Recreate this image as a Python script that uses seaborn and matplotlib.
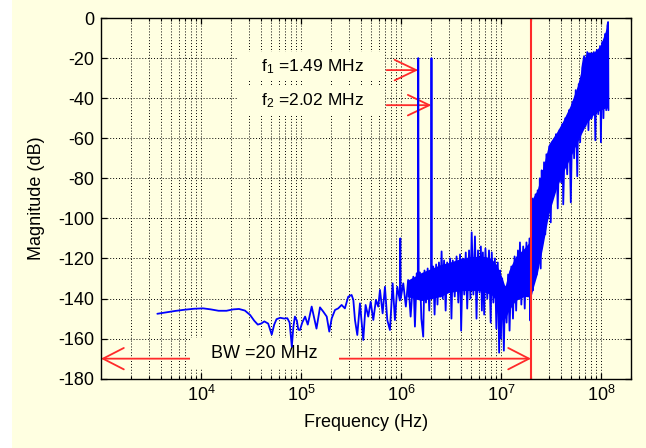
import numpy as np
import matplotlib
matplotlib.use("Agg")
import matplotlib.pyplot as plt
import seaborn as sns
from matplotlib.patches import Rectangle
from matplotlib.ticker import LogLocator, NullFormatter, FixedLocator

# ---------------- data ----------------
freq_hz = [
    3.66e3, 4.5e3, 5.5e3, 6.8e3, 8.5e3, 1.05e4, 1.25e4, 1.5e4, 1.8e4, 2.1e4,
    2.4e4, 2.75e4, 3.1e4, 3.4e4, 3.7e4, 4.0e4, 4.3e4, 4.7e4, 5.1e4, 5.4e4,
    5.7e4, 6.2e4, 6.8e4, 7.3e4, 7.7e4, 8.1e4, 8.4e4, 8.7e4, 9.1e4, 9.4e4,
    9.77e4, 1.03e5, 1.10e5, 1.17e5, 1.28e5, 1.38e5, 1.43e5, 1.55e5, 1.67e5, 1.81e5,
    1.92e5, 2.03e5, 2.19e5, 2.36e5, 2.55e5, 2.75e5, 2.97e5, 3.21e5, 3.34e5, 3.47e5,
    3.66e5, 3.89e5, 4.2e5, 4.43e5, 4.71e5, 4.98e5, 5.29e5, 5.62e5, 5.93e5, 6.17e5,
    6.56e5, 6.92e5, 7.3e5, 7.76e5, 8.26e5, 8.71e5, 9.19e5, 9.75e5, 9.85e5, 9.95e5,
    1.055e6, 1.12e6, 1.18e6, 1.25e6, 1.33e6, 1.38e6, 1.44e6, 1.475e6, 1.49e6, 1.505e6,
    1.55e6, 1.6e6, 1.67e6, 1.72e6, 1.78e6, 1.85e6, 1.92e6, 1.98e6, 2.005e6, 2.02e6,
    2.035e6, 2.1e6, 2.17e6, 2.25e6, 2.32e6, 2.4e6, 2.48e6, 2.55e6, 2.62e6, 2.7e6,
    2.8e6, 2.9e6, 3.0e6, 3.1e6, 3.2e6, 3.3e6, 3.45e6, 3.6e6, 3.75e6, 3.9e6,
    4.0e6, 4.15e6, 4.3e6, 4.45e6, 4.6e6, 4.8e6, 4.95e6, 5.1e6, 5.3e6, 5.5e6,
    5.7e6, 5.9e6, 6.1e6, 6.3e6, 6.45e6, 6.6e6, 6.8e6, 7.0e6, 7.3e6, 7.6e6,
    7.9e6, 8.1e6, 8.4e6, 8.7e6, 9.0e6, 9.3e6, 9.6e6, 9.8e6, 1.0e7, 1.03e7,
    1.07e7, 1.1e7, 1.14e7, 1.18e7, 1.22e7, 1.27e7, 1.32e7, 1.37e7, 1.42e7, 1.48e7,
    1.52e7, 1.55e7, 1.6e7, 1.67e7, 1.73e7, 1.8e7, 1.87e7, 1.93e7, 1.97e7, 1.995e7,
    2.01e7, 2.04e7, 2.08e7, 2.12e7, 2.17e7, 2.22e7, 2.28e7, 2.33e7, 2.4e7, 2.45e7,
    2.5e7, 2.56e7, 2.62e7, 2.7e7, 2.78e7, 2.85e7, 2.95e7, 3.05e7, 3.15e7, 3.25e7,
    3.4e7, 3.55e7, 3.7e7, 3.85e7, 4.0e7, 4.1e7, 4.2e7, 4.4e7, 4.6e7, 4.8e7,
    5.0e7, 5.2e7, 5.4e7, 5.6e7, 5.8e7, 6.0e7, 6.2e7, 6.5e7, 6.8e7, 7.0e7,
    7.3e7, 7.5e7, 7.8e7, 8.1e7, 8.5e7, 8.8e7, 9.1e7, 9.4e7, 9.8e7, 1.0e8,
    1.03e8, 1.06e8, 1.1e8, 1.13e8, 1.16e8, 1.18e8, 1.19e8,
]
mag_db = [
    -147.6, -146.9, -146.2, -145.6, -145.1, -144.9, -145.4, -146.1, -146.1, -145.4,
    -145.2, -146.0, -148.2, -151.0, -153.0, -152.5, -151.4, -152.5, -158.0, -153.0,
    -150.3, -149.6, -150.0, -149.8, -152.0, -164.0, -154.0, -149.0, -151.0, -155.5,
    -155.7, -152.0, -149.0, -153.0, -144.0, -151.5, -155.0, -144.4, -146.5, -149.0,
    -156.5, -149.9, -145.7, -144.9, -143.2, -144.9, -139.1, -138.2, -140.7, -150.7,
    -158.2, -142.4, -160.7, -143.2, -149.0, -141.6, -150.7, -140.7, -144.0, -135.7,
    -147.4, -134.1, -150.7, -155.7, -132.4, -150.7, -134.1, -141.0, -110.0, -140.0,
    -132.4, -144.0, -130.7, -149.0, -129.1, -154.0, -127.4, -137.0, -20.0, -138.0,
    -127.0, -150.0, -159.0, -126.0, -142.0, -125.0, -146.0, -127.0, -132.0, -20.0,
    -140.0, -124.0, -148.0, -123.0, -143.0, -122.0, -139.0, -116.5, -140.0, -121.0,
    -146.0, -122.0, -136.0, -120.0, -150.0, -121.0, -139.0, -119.0, -142.0, -118.0,
    -156.0, -120.0, -138.0, -117.0, -145.0, -116.0, -140.0, -107.0, -138.0, -109.0,
    -150.0, -116.0, -137.0, -114.0, -146.0, -117.0, -148.0, -115.0, -140.0, -116.0,
    -152.0, -117.0, -142.0, -120.0, -155.0, -122.0, -167.0, -126.0, -160.0, -130.0,
    -166.0, -134.0, -152.0, -128.0, -156.0, -124.0, -150.0, -119.0, -146.0, -116.0,
    -138.0, -112.0, -143.0, -114.0, -145.0, -112.0, -139.0, -110.0, -151.0, -108.0,
    -138.0, -90.0, -136.0, -92.0, -130.0, -88.0, -128.0, -86.0, -118.0, -80.0,
    -125.0, -76.0, -112.0, -72.0, -108.0, -68.0, -100.0, -64.0, -102.0, -62.0,
    -88.0, -58.0, -95.0, -56.0, -82.0, -53.0, -93.0, -50.0, -78.0, -46.0,
    -92.0, -42.0, -70.0, -36.0, -79.0, -33.0, -62.0, -25.0, -19.0, -54.0,
    -17.0, -56.0, -18.0, -50.0, -17.0, -61.0, -16.0, -48.0, -14.0, -62.0,
    -12.0, -50.0, -8.0, -46.0, -4.0, -2.0, -46.0,
]

# dense noise core (solid blue band)
band_freq_hz = [1.15e6, 1.6e6, 2.0e6, 2.5e6, 3.0e6, 4.0e6, 5.0e6, 6.0e6,
                7.0e6, 8.0e6, 9.0e6, 1.0e7, 1.1e7, 1.2e7, 1.4e7, 1.7e7, 1.99e7, 2.01e7,
                2.3e7, 2.6e7, 3.0e7, 3.6e7, 4.1e7, 4.9e7, 5.8e7, 6.8e7, 7.3e7, 8.5e7,
                9.8e7, 1.1e8, 1.18e8]
band_upper_db = [-131, -127, -125, -123, -122, -120, -119, -119,
                 -119, -120, -123, -128, -134, -126, -119, -115, -111, -91,
                 -86, -76, -63, -57, -52, -44, -34, -20, -17, -17,
                 -14, -7, -2]
band_lower_db = [-139, -141, -140, -139, -137, -136, -136, -136,
                 -137, -138, -141, -146, -150, -146, -141, -139, -139, -138,
                 -128, -115, -98, -85, -78, -70, -62, -55, -52, -48,
                 -46, -45, -45]

tone_freqs_hz = [1.49e6, 2.02e6]
tone_labels = ["f$_1$ =1.49 MHz", "f$_2$ =2.02 MHz"]
tone_label_db = [-24.3, -41.3]
tone_arrow_db = [-26.0, -43.5]
bandwidth_hz = 20e6
bw_label = "BW =20 MHz"
x_major_ticks = [1e4, 1e5, 1e6, 1e7, 1e8]
y_ticks = list(range(-180, 1, 20))

# ---------------- style ----------------
sns.set_theme(style="ticks")
plt.rcParams["font.family"] = ["Liberation Sans", "DejaVu Sans"]
plt.rcParams["mathtext.fontset"] = "custom"
plt.rcParams["mathtext.rm"] = "Liberation Sans"
plt.rcParams["mathtext.it"] = "Liberation Sans:italic"
plt.rcParams["mathtext.bf"] = "Liberation Sans:bold"
plt.rcParams["axes.unicode_minus"] = False

BG = "#FFFFE1"
BLUE = "#0000FF"
RED = "#FF2A2A"

fig = plt.figure(figsize=(6.46, 4.48), dpi=100, facecolor="white")
fig.patches.append(Rectangle((12 / 646, 0), 1, 1, transform=fig.transFigure,
                             facecolor=BG, edgecolor="none", zorder=-10))
ax = fig.add_axes([101 / 646, 1 - 378.7 / 448, 530 / 646, 360.7 / 448])
ax.set_facecolor(BG)

ax.set_xscale("log")
ax.fill_between(band_freq_hz, band_lower_db, band_upper_db, color=BLUE, lw=0, zorder=3)
sns.lineplot(x=freq_hz, y=mag_db, estimator=None, sort=False, color=BLUE,
             lw=1.3, ax=ax, zorder=3)

ax.set_xlim(1e3, 2e8)
ax.set_ylim(-180, 0)
ax.set_yticks(y_ticks)
ax.xaxis.set_major_locator(FixedLocator(x_major_ticks))
ax.xaxis.set_minor_locator(LogLocator(base=10, subs=np.arange(2, 10), numticks=40))
ax.xaxis.set_minor_formatter(NullFormatter())

ax.set_axisbelow(True)
grid_kw = dict(color="black", lw=0.7, ls=(0, (1, 2)))
ax.grid(True, which="both", axis="x", **grid_kw)
ax.grid(True, which="major", axis="y", **grid_kw)

for s in ax.spines.values():
    s.set_color("black")
    s.set_linewidth(1.0)
    s.set_zorder(5)
ax.tick_params(which="both", direction="in", top=True, right=True, color="black")
ax.tick_params(which="major", length=4.5, width=0.9)
ax.tick_params(which="minor", length=2.5, width=0.8)
ax.tick_params(axis="x", labelsize=13, pad=4.5, labelcolor="black")
ax.tick_params(axis="y", labelsize=13, pad=5, labelcolor="black")

ax.set_xlabel("Frequency (Hz)", fontsize=13, color="black")
ax.set_ylabel("Magnitude (dB)", fontsize=13, color="black")
ax.xaxis.set_label_coords(0.5, -0.099)
ax.yaxis.set_label_coords(-0.1066, 0.5)

# bandwidth line and arrow
ax.axvline(bandwidth_hz, color=RED, lw=1.5, zorder=4)
ax.annotate("", xy=(1e3, -170), xytext=(bandwidth_hz, -170), annotation_clip=False,
            arrowprops=dict(arrowstyle="<->,head_length=15,head_width=7.7",
                            mutation_scale=1, color=RED, lw=1.3,
                            shrinkA=0, shrinkB=0), zorder=1.5)
ax.text(4.3e4, -167.2, "   " + bw_label + "   ", ha="center", va="center",
        fontsize=13, color="black", zorder=2,
        bbox=dict(boxstyle="square,pad=0.35", fc=BG, ec="none"))

# tone labels and arrows
for f, lab, ly, ay in zip(tone_freqs_hz, tone_labels, tone_label_db, tone_arrow_db):
    ax.annotate("", xy=(f, ay), xytext=(7.2e5, ay),
                arrowprops=dict(arrowstyle="->,head_length=15.5,head_width=7.4",
                                mutation_scale=1, color=RED, lw=1.3,
                                shrinkA=0, shrinkB=0), zorder=1.5)
    ax.text(1.26e5, ly, "    " + lab + "    ", ha="center", va="center",
            fontsize=12.5, color="black", zorder=2,
            bbox=dict(boxstyle="square,pad=0.3", fc=BG, ec="none"))

fig.savefig("out.png", dpi=100, facecolor=fig.get_facecolor())
